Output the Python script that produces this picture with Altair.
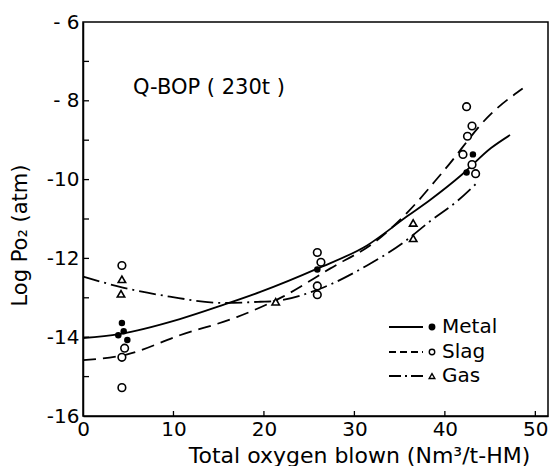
import altair as alt
import pandas as pd

# ---- fitted curves ----
metal_curve_x = [0, 4.0, 10.7, 15.5, 19.6, 25.9, 31.4, 35.9, 38.4, 41.9, 45.1, 47.2]
metal_curve_y = [-14.02, -13.92, -13.54, -13.18, -12.85, -12.26, -11.67, -10.92, -10.51, -9.87, -9.2, -8.87]

slag_curve_x = [0, 4.8, 10.7, 17.0, 22.1, 27.3, 32.5, 36.0, 39.9, 45.1, 48.6]
slag_curve_y = [-14.58, -14.44, -13.95, -13.49, -12.97, -12.26, -11.54, -10.8, -9.77, -8.33, -7.69]

gas_curve_x = [0, 4.4, 9.6, 15.5, 19.6, 21.3, 26.2, 31.4, 35.4, 38.4, 41.4, 43.7]
gas_curve_y = [-12.46, -12.74, -12.97, -13.13, -13.1, -13.08, -12.77, -12.18, -11.6, -11.05, -10.54, -10.05]

# ---- measured points ----
metal_x = [4.3, 3.9, 4.5, 4.9, 25.9, 43.1, 42.4]
metal_y = [-13.64, -13.95, -13.85, -14.07, -12.28, -9.36, -9.82]

slag_x = [4.3, 4.6, 4.3, 4.3, 25.9, 26.3, 25.9, 25.9, 42.4, 43.0, 42.5, 42.0, 43.0, 43.4]
slag_y = [-12.18, -14.28, -14.51, -15.28, -11.85, -12.1, -12.7, -12.92, -8.15, -8.64, -8.9, -9.36, -9.62, -9.85]

gas_x = [4.3, 4.2, 21.3, 36.5, 36.5]
gas_y = [-12.53, -12.9, -13.1, -11.1, -11.49]

x_tick_labels = [0, 10, 20, 30, 40, 50]
y_tick_labels = [-16, -14, -12, -10, -8, -6]
y_minor_ticks = [-15, -14, -13, -12, -11, -10, -9, -8, -7]
x_minor_ticks = [10, 20, 30, 40, 50]

legend_names = ["Metal", "Slag", "Gas"]

FONT = "DejaVu Sans"
W, H = 465, 394

xs = alt.Scale(domain=[0, 51.4], nice=False, zero=False)
ys = alt.Scale(domain=[-16, -6], nice=False, zero=False)

X = alt.X("x:Q", scale=xs, axis=alt.Axis(
    values=x_tick_labels, ticks=False, grid=False, labelFont=FONT, labelFontSize=20,
    labelColor="black", labelPadding=3, labelFlush=False, domainColor="black", domainWidth=1.5,
    title="Total oxygen blown (Nm³/t-HM)", titleFont=FONT, titleFontSize=22,
    titleFontWeight="normal", titleColor="black", titleX=276, titleY=39,
    titleBaseline="middle", titleAlign="center"))
Y = alt.Y("y:Q", scale=ys, axis=alt.Axis(
    values=y_tick_labels, ticks=False, grid=False, labelFont=FONT, labelFontSize=20,
    labelColor="black", labelPadding=4, labelFlush=False, domainColor="black", domainWidth=1.5,
    labelExpr="datum.value > -10 ? '- ' + abs(datum.value) : '-' + abs(datum.value)",
    title="Log Po₂ (atm)", titleFont=FONT, titleFontSize=21, titleFontWeight="normal",
    titleColor="black", titleX=-63, titleY=213, titleBaseline="middle", titleAlign="center"))

SW = 1.8

def curve(xv, yv, dash):
    df = pd.DataFrame({"x": xv, "y": yv})
    kw = dict(color="black", strokeWidth=SW, interpolate="monotone")
    if dash:
        kw["strokeDash"] = dash
    return alt.Chart(df).mark_line(**kw).encode(x=X, y=Y)

DASH = [13, 7]
DASHDOT = [17, 5, 2, 5]

metal_line = curve(metal_curve_x, metal_curve_y, None)
slag_line = curve(slag_curve_x, slag_curve_y, DASH)
gas_line = curve(gas_curve_x, gas_curve_y, DASHDOT)

metal_pts = alt.Chart(pd.DataFrame({"x": metal_x, "y": metal_y})).mark_point(
    shape="circle", filled=True, color="black", size=42, opacity=1).encode(x=X, y=Y)
slag_pts = alt.Chart(pd.DataFrame({"x": slag_x, "y": slag_y})).mark_point(
    shape="circle", filled=True, fill="white", stroke="black", strokeWidth=1.6,
    size=58, opacity=1).encode(x=X, y=Y)
gas_pts = alt.Chart(pd.DataFrame({"x": gas_x, "y": gas_y})).mark_point(
    shape="triangle-up", filled=True, fill="white", stroke="black", strokeWidth=1.6,
    size=55, opacity=1).encode(x=X, y=Y)

# inward minor ticks
yt = alt.Chart(pd.DataFrame({"y": y_minor_ticks})).mark_rule(color="black", strokeWidth=1.3).encode(
    y=Y, x=alt.value(0), x2=alt.value(6))
xt = alt.Chart(pd.DataFrame({"x": x_minor_ticks})).mark_rule(color="black", strokeWidth=1.3).encode(
    x=X, y=alt.value(H), y2=alt.value(H - 5))

one = alt.Data(values=[{}])

label = alt.Chart(one).mark_text(
    text="Q-BOP ( 230t )", font=FONT, fontSize=21, align="left", baseline="middle",
    color="black").encode(x=alt.value(50), y=alt.value(66))

# legend (hand-drawn, like the original)
leg_rows = [305, 330, 354]
leg_dash = [None, [7, 4], [12, 4, 2, 4]]
leg_shape = ["circle", "circle", "triangle-up"]
leg_fill = ["black", "white", "white"]
leg_size = [30, 30, 32]
legend_layers = []
for name, yy, dsh, shp, fl, sz in zip(legend_names, leg_rows, leg_dash, leg_shape, leg_fill, leg_size):
    kw = dict(color="black", strokeWidth=SW)
    if dsh:
        kw["strokeDash"] = dsh
    legend_layers.append(alt.Chart(one).mark_rule(**kw).encode(
        x=alt.value(306), x2=alt.value(340), y=alt.value(yy)))
    legend_layers.append(alt.Chart(one).mark_point(
        shape=shp, filled=True, fill=fl, stroke="black", strokeWidth=1.4, size=sz, opacity=1).encode(
        x=alt.value(349), y=alt.value(yy)))
    legend_layers.append(alt.Chart(one).mark_text(
        text=name, font=FONT, fontSize=20, align="left", baseline="middle", color="black").encode(
        x=alt.value(359), y=alt.value(yy)))

chart = alt.layer(
    metal_line, slag_line, gas_line, yt, xt, metal_pts, slag_pts, gas_pts, label, *legend_layers
).properties(
    width=W, height=H,
    autosize=alt.AutoSizeParams(type="none"),
    padding={"left": 83, "top": 22, "right": 3, "bottom": 50},
    background="white",
).configure_view(stroke="black", strokeWidth=1.5)

chart.save("out.html", embed_options={"renderer": "svg", "actions": False})
